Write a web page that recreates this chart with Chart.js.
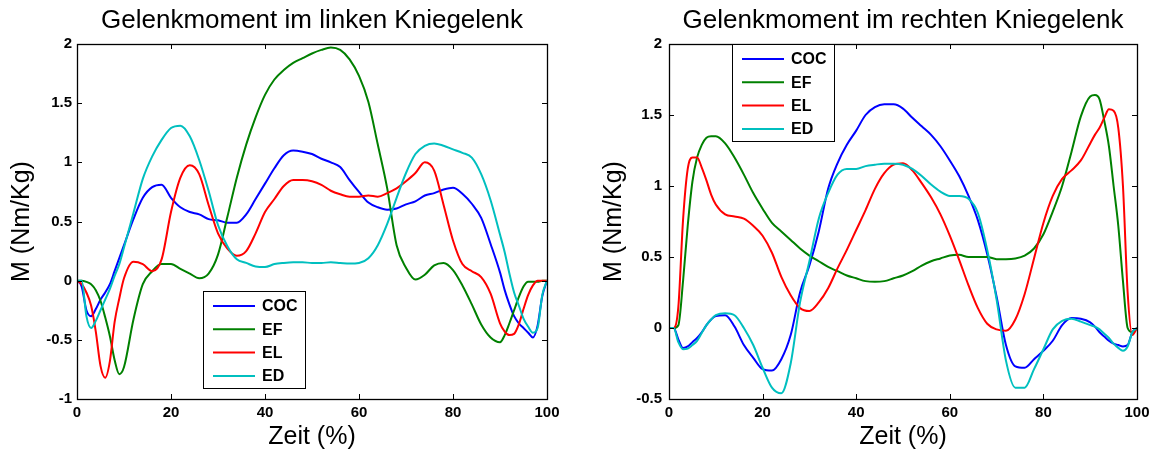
<!DOCTYPE html>
<html lang="de">
<head>
<meta charset="utf-8">
<title>Gelenkmoment Kniegelenk</title>
<script src="https://cdn.jsdelivr.net/npm/chart.js@4.4.0/dist/chart.umd.min.js"></script>
<style>
    html, body { margin: 0; padding: 0; background: #fff; }
    #wrap { position: relative; width: 1166px; height: 450px; }
    .panel { position: absolute; top: 0; width: 583px; height: 450px; }
    #panel-links { left: 0; }
    #panel-rechts { left: 583px; }
</style>
</head>
<body>
<div id="wrap">
    <div class="panel" id="panel-links"><canvas id="grafico-links" width="583" height="450"></canvas></div>
    <div class="panel" id="panel-rechts"><canvas id="grafico-rechts" width="583" height="450"></canvas></div>
</div>
<script>
// Zeitachse (%)
const zeit = [0, 1, 2, 3, 4, 5, 6, 7, 8, 9, 10,
    12, 14, 16, 18, 20, 22, 24, 26, 28, 30, 32, 34, 36, 38, 40, 42, 44, 46, 48, 50,
    52, 54, 56, 58, 60, 62, 64, 66, 68, 70, 72, 74, 76, 78, 80, 82, 84, 86, 88,
    90, 91, 92, 93, 94, 95, 96, 97, 98, 99, 100];

const serien = ['COC', 'EF', 'EL', 'ED'];
const farben = ['#0000ff', '#008000', '#ff0000', '#00bfbf'];

// linkes Kniegelenk
const linksCOC = [0, -0.05, -0.25, -0.30, -0.24, -0.16, -0.10, -0.03, 0.08, 0.19, 0.30,
    0.52, 0.70, 0.79, 0.81, 0.70, 0.62, 0.58, 0.56, 0.52, 0.51, 0.49, 0.49, 0.56, 0.69, 0.82, 0.95, 1.06, 1.10, 1.09, 1.07,
    1.03, 1.00, 0.96, 0.85, 0.75, 0.66, 0.62, 0.60, 0.61, 0.645, 0.67, 0.72, 0.74, 0.77, 0.785, 0.735, 0.65, 0.53, 0.31,
    0.07, -0.08, -0.20, -0.30, -0.36, -0.40, -0.44, -0.48, -0.38, -0.13, 0.0];
const linksEF = [0, 0, -0.01, -0.03, -0.08, -0.17, -0.31, -0.47, -0.67, -0.79, -0.73,
    -0.33, -0.03, 0.08, 0.14, 0.14, 0.10, 0.06, 0.02, 0.06, 0.22, 0.54, 0.87, 1.15, 1.38, 1.57, 1.70, 1.78, 1.84, 1.88, 1.92,
    1.95, 1.97, 1.95, 1.87, 1.73, 1.51, 1.15, 0.78, 0.30, 0.11, 0.01, 0.05, 0.13, 0.15, 0.09, -0.04, -0.20, -0.37, -0.48,
    -0.52, -0.46, -0.36, -0.25, -0.14, -0.05, -0.01, -0.01, -0.01, 0.0, 0.0];
const linksEL = [0, -0.03, -0.10, -0.21, -0.43, -0.72, -0.82, -0.68, -0.35, -0.15, 0.02,
    0.16, 0.14, 0.08, 0.18, 0.58, 0.87, 0.975, 0.90, 0.64, 0.40, 0.27, 0.21, 0.25, 0.40, 0.58, 0.69, 0.80, 0.85, 0.85, 0.84,
    0.81, 0.76, 0.73, 0.71, 0.71, 0.72, 0.71, 0.74, 0.78, 0.84, 0.91, 1.00, 0.93, 0.64, 0.34, 0.14, 0.08, 0.03, -0.11,
    -0.36, -0.43, -0.46, -0.45, -0.37, -0.24, -0.12, -0.04, 0.0, 0.0, 0.0];
const linksED = [0, 0, -0.30, -0.40, -0.34, -0.25, -0.16, -0.07, 0.04, 0.14, 0.28,
    0.57, 0.86, 1.05, 1.19, 1.29, 1.31, 1.22, 1.02, 0.76, 0.47, 0.29, 0.18, 0.15, 0.12, 0.115, 0.14, 0.15, 0.155, 0.155, 0.15,
    0.15, 0.155, 0.15, 0.145, 0.15, 0.19, 0.30, 0.48, 0.70, 0.91, 1.07, 1.14, 1.16, 1.14, 1.11, 1.08, 1.04, 0.90, 0.68,
    0.39, 0.24, 0.06, -0.10, -0.21, -0.32, -0.39, -0.44, -0.40, -0.12, 0.0];

// rechtes Kniegelenk
const rechtsCOC = [0, 0, -0.08, -0.14, -0.13, -0.10, -0.07, -0.03, 0.02, 0.06, 0.085,
    0.09, 0.01, -0.12, -0.21, -0.29, -0.30, -0.22, -0.05, 0.25, 0.44, 0.68, 0.98, 1.16, 1.29, 1.39, 1.50, 1.555, 1.575, 1.575, 1.545,
    1.48, 1.42, 1.36, 1.28, 1.18, 1.07, 0.93, 0.76, 0.52, 0.22, -0.12, -0.27, -0.28, -0.22, -0.16, -0.09, 0.02, 0.07, 0.065,
    0.04, 0.01, -0.03, -0.06, -0.09, -0.11, -0.12, -0.13, -0.12, -0.03, 0.0];
const rechtsEF = [0, 0, 0.02, 0.33, 0.72, 1.03, 1.20, 1.29, 1.34, 1.35, 1.35,
    1.30, 1.20, 1.08, 0.95, 0.84, 0.74, 0.68, 0.62, 0.56, 0.51, 0.47, 0.43, 0.40, 0.37, 0.35, 0.33, 0.325, 0.33, 0.35, 0.37,
    0.40, 0.44, 0.47, 0.49, 0.51, 0.515, 0.50, 0.50, 0.50, 0.485, 0.485, 0.49, 0.51, 0.56, 0.66, 0.82, 1.00, 1.24, 1.49,
    1.63, 1.64, 1.61, 1.46, 1.28, 1.00, 0.72, 0.33, 0.0, -0.03, 0.0];
const rechtsEL = [0, 0, 0.15, 0.76, 1.12, 1.20, 1.20, 1.13, 1.04, 0.94, 0.87,
    0.80, 0.785, 0.77, 0.72, 0.65, 0.53, 0.36, 0.23, 0.14, 0.12, 0.18, 0.28, 0.42, 0.55, 0.69, 0.83, 0.98, 1.09, 1.15, 1.16,
    1.11, 1.02, 0.92, 0.80, 0.65, 0.48, 0.30, 0.14, 0.03, -0.01, -0.02, 0.06, 0.24, 0.49, 0.74, 0.93, 1.05, 1.11, 1.18,
    1.30, 1.36, 1.41, 1.48, 1.54, 1.53, 1.41, 1.00, 0.25, -0.05, 0.0];
const rechtsED = [0, 0, -0.10, -0.15, -0.145, -0.12, -0.09, -0.035, 0.02, 0.06, 0.09,
    0.104, 0.09, 0.0, -0.12, -0.28, -0.42, -0.46, -0.25, 0.18, 0.47, 0.77, 0.95, 1.08, 1.12, 1.12, 1.14, 1.15, 1.157, 1.157, 1.15,
    1.12, 1.07, 1.01, 0.96, 0.93, 0.93, 0.91, 0.81, 0.55, 0.20, -0.23, -0.42, -0.42, -0.29, -0.15, -0.01, 0.05, 0.065, 0.045,
    0.02, 0.01, -0.01, -0.04, -0.07, -0.11, -0.14, -0.16, -0.13, -0.03, 0.0];

const schrift = "'Liberation Sans', Arial, Helvetica, sans-serif";

// Rahmen mit nach innen zeigenden Ticks (MATLAB-Stil)
const rahmenPlugin = {
    id: 'rahmen',
    afterDatasetsDraw(chart) {
        const { ctx, chartArea: a, scales } = chart;
        const len = 5;
        ctx.save();
        ctx.strokeStyle = '#000';
        ctx.lineWidth = 1;
        ctx.beginPath();
        scales.x.ticks.forEach(t => {
            const px = Math.round(scales.x.getPixelForValue(t.value)) + 0.5;
            ctx.moveTo(px, a.bottom); ctx.lineTo(px, a.bottom - len);
            ctx.moveTo(px, a.top); ctx.lineTo(px, a.top + len);
        });
        scales.y.ticks.forEach(t => {
            const py = Math.round(scales.y.getPixelForValue(t.value)) + 0.5;
            ctx.moveTo(a.left, py); ctx.lineTo(a.left + len, py);
            ctx.moveTo(a.right, py); ctx.lineTo(a.right - len, py);
        });
        ctx.stroke();
        ctx.lineWidth = 1.3;
        ctx.strokeRect(Math.round(a.left) + 0.5, Math.round(a.top) + 0.5,
            Math.round(a.right - a.left), Math.round(a.bottom - a.top));
        ctx.restore();
    }
};

// Legende im Diagramm
const legendePlugin = {
    id: 'legendeInnen',
    afterDraw(chart, args, opts) {
        const { ctx, chartArea: a } = chart;
        const x0 = a.left + opts.dx;
        const y0 = a.top + opts.dy;
        const w = 102, h = 97;
        ctx.save();
        ctx.fillStyle = '#fff';
        ctx.fillRect(x0, y0, w, h);
        ctx.strokeStyle = '#000';
        ctx.lineWidth = 1;
        ctx.strokeRect(x0 + 0.5, y0 + 0.5, w, h);
        ctx.font = 'bold 16px ' + schrift;
        ctx.textBaseline = 'middle';
        ctx.textAlign = 'left';
        chart.data.datasets.forEach((ds, i) => {
            const yy = y0 + 15 + i * 23.3;
            ctx.strokeStyle = ds.borderColor;
            ctx.lineWidth = 2;
            ctx.beginPath();
            ctx.moveTo(x0 + 10, yy);
            ctx.lineTo(x0 + 52, yy);
            ctx.stroke();
            ctx.fillStyle = '#000';
            ctx.fillText(ds.label, x0 + 59, yy + 1);
        });
        ctx.restore();
    }
};

function datensaetze(werte) {
    return serien.map((name, i) => ({
        label: name,
        data: zeit.map((t, k) => ({ x: t, y: werte[i][k] })),
        borderColor: farben[i],
        backgroundColor: farben[i],
        borderWidth: 2,
        pointRadius: 0,
        cubicInterpolationMode: 'monotone',
        order: serien.length - 1 - i
    }));
}

function crearGrafico(id, titel, werte, yMin, legendePos, yBreite, rechtsPad, yTitelPad, yTickPad) {
    return new Chart(document.getElementById(id).getContext('2d'), {
        type: 'line',
        data: { datasets: datensaetze(werte) },
        options: {
            responsive: false,
            animation: false,
            devicePixelRatio: 1,
            layout: { padding: { left: 0, right: rechtsPad, top: 0, bottom: 0 } },
            plugins: {
                legend: { display: false },
                tooltip: { enabled: false },
                title: {
                    display: true,
                    text: titel,
                    fullSize: false,
                    color: '#000',
                    font: { family: schrift, size: 26, weight: 'normal', lineHeight: 1 },
                    padding: { top: 8, bottom: 10 }
                },
                legendeInnen: legendePos
            },
            scales: {
                x: {
                    type: 'linear',
                    min: 0,
                    max: 100,
                    grid: { display: false, drawTicks: false },
                    border: { display: false },
                    ticks: {
                        stepSize: 20,
                        padding: 5,
                        color: '#000',
                        font: { family: schrift, size: 15, weight: 'bold', lineHeight: 1.2 },
                        maxRotation: 0
                    },
                    title: {
                        display: true,
                        text: 'Zeit (%)',
                        color: '#000',
                        font: { family: schrift, size: 25, lineHeight: 1 },
                        padding: { top: 0, bottom: 0.5 }
                    },
                    afterFit: scale => { scale.height = 51; }
                },
                y: {
                    min: yMin,
                    max: 2,
                    grid: { display: false, drawTicks: false },
                    border: { display: false },
                    ticks: {
                        stepSize: 0.5,
                        padding: yTickPad,
                        color: '#000',
                        font: { family: schrift, size: 15, weight: 'bold' },
                        callback: v => String(v)
                    },
                    title: {
                        display: true,
                        text: 'M (Nm/Kg)',
                        color: '#000',
                        font: { family: schrift, size: 25, lineHeight: 1 },
                        padding: { top: yTitelPad, bottom: 0 }
                    },
                    afterFit: scale => { scale.width = yBreite; }
                }
            }
        },
        plugins: [rahmenPlugin, legendePlugin]
    });
}

crearGrafico('grafico-links', 'Gelenkmoment im linken Kniegelenk',
    [linksCOC, linksEF, linksEL, linksED], -1, { dx: 126, dy: 247 }, 77, 36, 9.5, 5);
crearGrafico('grafico-rechts', 'Gelenkmoment im rechten Kniegelenk',
    [rechtsCOC, rechtsEF, rechtsEL, rechtsED], -0.5, { dx: 63, dy: 0 }, 86, 29, 19, 7);
</script>
</body>
</html>
